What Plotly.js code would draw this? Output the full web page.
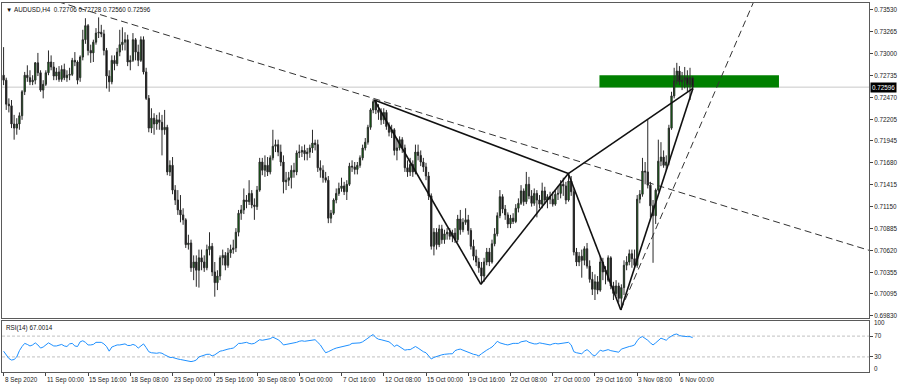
<!DOCTYPE html>
<html><head><meta charset="utf-8">
<script src="https://cdn.plot.ly/plotly-3.0.1.min.js"></script>
<style>html,body{margin:0;padding:0;background:#fff;}#chart{width:900px;height:387px;}</style>
</head><body><div id="chart"></div>
<script>
const symbol = 'AUDUSD,H4';
const dateLabels = ['8 Sep 2020','11 Sep 00:00','15 Sep 16:00','18 Sep 08:00','23 Sep 00:00','25 Sep 16:00','30 Sep 08:00','5 Oct 00:00','7 Oct 16:00','12 Oct 08:00','15 Oct 00:00','19 Oct 16:00','22 Oct 08:00','27 Oct 00:00','29 Oct 16:00','3 Nov 08:00','6 Nov 00:00'];
const priceTicks = [0.73530,0.73265,0.73000,0.72735,0.72470,0.72205,0.71945,0.71680,0.71415,0.71150,0.70885,0.70620,0.70355,0.70095,0.69830];

const open = [
0.7274,0.7268,0.7239,0.7237,0.7215,0.7210,0.7215,0.7225,0.7254,0.7274,
0.7271,0.7266,0.7268,0.7289,0.7277,0.7256,0.7263,0.7277,0.7290,0.7284,
0.7273,0.7278,0.7269,0.7281,0.7271,0.7274,0.7275,0.7292,0.7290,0.7271,
0.7296,0.7317,0.7334,0.7304,0.7301,0.7314,0.7325,0.7326,0.7324,0.7304,
0.7273,0.7266,0.7292,0.7288,0.7302,0.7311,0.7314,0.7317,0.7290,0.7292,
0.7317,0.7302,0.7292,0.7317,0.7278,0.7246,0.7210,0.7222,0.7215,0.7220,
0.7217,0.7208,0.7211,0.7157,0.7165,0.7135,0.7123,0.7111,0.7105,0.7099,
0.7069,0.7071,0.7041,0.7048,0.7038,0.7053,0.7048,0.7041,0.7063,0.7067,
0.7036,0.7023,0.7031,0.7053,0.7056,0.7044,0.7059,0.7063,0.7065,0.7084,
0.7107,0.7111,0.7123,0.7121,0.7131,0.7117,0.7115,0.7135,0.7169,0.7159,
0.7165,0.7157,0.7174,0.7188,0.7190,0.7181,0.7169,0.7145,0.7147,0.7150,
0.7159,0.7157,0.7180,0.7181,0.7183,0.7179,0.7181,0.7186,0.7192,0.7190,
0.7162,0.7159,0.7150,0.7147,0.7101,0.7107,0.7123,0.7131,0.7137,0.7140,
0.7133,0.7142,0.7164,0.7163,0.7160,0.7165,0.7174,0.7186,0.7193,0.7211,
0.7232,0.7242,0.7232,0.7229,0.7220,0.7229,0.7212,0.7205,0.7208,0.7183,
0.7186,0.7196,0.7186,0.7162,0.7157,0.7166,0.7157,0.7181,0.7177,0.7169,
0.7163,0.7152,0.7128,0.7067,0.7084,0.7069,0.7088,0.7075,0.7082,0.7084,
0.7079,0.7083,0.7075,0.7100,0.7087,0.7096,0.7099,0.7086,0.7067,0.7055,
0.7048,0.7041,0.7031,0.7048,0.7060,0.7048,0.7070,0.7082,0.7104,0.7127,
0.7112,0.7105,0.7094,0.7101,0.7097,0.7113,0.7119,0.7134,0.7121,0.7142,
0.7128,0.7119,0.7131,0.7123,0.7118,0.7134,0.7123,0.7127,0.7124,0.7118,
0.7130,0.7131,0.7142,0.7140,0.7123,0.7146,0.7133,0.7060,0.7048,0.7055,
0.7050,0.7064,0.7043,0.7027,0.7015,0.7024,0.7014,0.7048,0.7036,0.7026,
0.7053,0.7019,0.7010,0.7019,0.7004,0.7017,0.7044,0.7048,0.7058,0.7052,
0.7044,0.7124,0.7130,0.7158,0.7157,0.7141,0.7116,0.7104,0.7135,0.7170,
0.7175,0.7165,0.7169,0.7210,0.7249,0.7267,0.7279,0.7266,0.7268,0.7271,
0.7263,0.72706];

const high = [
0.7308,0.7271,0.7246,0.7244,0.7226,0.7222,0.7229,0.7256,0.7278,0.7286,
0.7280,0.7274,0.7290,0.7301,0.7280,0.7268,0.7280,0.7304,0.7298,0.7290,
0.7283,0.7285,0.7286,0.7288,0.7280,0.7283,0.7295,0.7302,0.7292,0.7298,
0.7329,0.7343,0.7336,0.7311,0.7317,0.7331,0.7344,0.7335,0.7329,0.7307,
0.7280,0.7298,0.7298,0.7307,0.7329,0.7332,0.7326,0.7323,0.7298,0.7325,
0.7319,0.7311,0.7321,0.7321,0.7283,0.7250,0.7234,0.7228,0.7226,0.7229,
0.7226,0.7232,0.7214,0.7171,0.7175,0.7141,0.7135,0.7129,0.7113,0.7101,
0.7081,0.7075,0.7056,0.7056,0.7063,0.7063,0.7056,0.7069,0.7084,0.7071,
0.7048,0.7038,0.7056,0.7063,0.7060,0.7065,0.7069,0.7075,0.7089,0.7111,
0.7117,0.7137,0.7129,0.7147,0.7135,0.7125,0.7140,0.7174,0.7174,0.7177,
0.7175,0.7177,0.7208,0.7196,0.7196,0.7190,0.7177,0.7157,0.7157,0.7165,
0.7168,0.7183,0.7190,0.7188,0.7190,0.7186,0.7190,0.7208,0.7196,0.7196,
0.7171,0.7165,0.7157,0.7152,0.7111,0.7125,0.7137,0.7144,0.7150,0.7145,
0.7147,0.7168,0.7171,0.7169,0.7169,0.7177,0.7190,0.7198,0.7214,0.7234,
0.7245,0.7244,0.7239,0.7234,0.7234,0.7232,0.7217,0.7214,0.7210,0.7198,
0.7200,0.7199,0.7190,0.7171,0.7174,0.7171,0.7190,0.7190,0.7183,0.7174,
0.7168,0.7157,0.7131,0.7089,0.7089,0.7093,0.7093,0.7087,0.7089,0.7089,
0.7087,0.7089,0.7105,0.7111,0.7101,0.7113,0.7105,0.7089,0.7075,0.7063,
0.7053,0.7048,0.7053,0.7065,0.7065,0.7075,0.7089,0.7108,0.7135,0.7130,
0.7117,0.7108,0.7105,0.7107,0.7118,0.7125,0.7141,0.7137,0.7157,0.7151,
0.7135,0.7137,0.7135,0.7129,0.7144,0.7139,0.7130,0.7133,0.7133,0.7135,
0.7140,0.7147,0.7150,0.7145,0.7156,0.7152,0.7137,0.7065,0.7060,0.7063,
0.7067,0.7071,0.7050,0.7036,0.7033,0.7031,0.7055,0.7053,0.7043,0.7056,
0.7055,0.7024,0.7026,0.7023,0.7021,0.7050,0.7055,0.7063,0.7063,0.7063,
0.7129,0.7135,0.7174,0.7169,0.7220,0.7145,0.7123,0.7137,0.7196,0.7193,
0.7183,0.7177,0.7214,0.7254,0.7283,0.7289,0.7285,0.7278,0.7284,0.7280,
0.7283,0.72728];

const low = [
0.7262,0.7232,0.7229,0.7210,0.7196,0.7202,0.7208,0.7220,0.7250,0.7266,
0.7262,0.7262,0.7263,0.7273,0.7254,0.7246,0.7261,0.7274,0.7280,0.7268,
0.7268,0.7266,0.7266,0.7268,0.7266,0.7268,0.7273,0.7285,0.7263,0.7266,
0.7292,0.7312,0.7298,0.7289,0.7290,0.7311,0.7319,0.7320,0.7298,0.7258,
0.7254,0.7263,0.7280,0.7285,0.7297,0.7304,0.7304,0.7285,0.7280,0.7290,
0.7292,0.7285,0.7290,0.7275,0.7244,0.7205,0.7204,0.7202,0.7208,0.7208,
0.7177,0.7202,0.7153,0.7152,0.7130,0.7117,0.7105,0.7096,0.7093,0.7065,
0.7063,0.7036,0.7026,0.7018,0.7017,0.7038,0.7036,0.7038,0.7056,0.7031,
0.7006,0.7014,0.7026,0.7044,0.7038,0.7041,0.7053,0.7058,0.7060,0.7079,
0.7099,0.7106,0.7113,0.7117,0.7113,0.7099,0.7111,0.7133,0.7153,0.7151,
0.7152,0.7154,0.7171,0.7181,0.7176,0.7164,0.7131,0.7135,0.7140,0.7137,
0.7150,0.7153,0.7174,0.7175,0.7171,0.7171,0.7174,0.7180,0.7183,0.7157,
0.7150,0.7144,0.7144,0.7095,0.7095,0.7105,0.7119,0.7128,0.7133,0.7129,
0.7123,0.7140,0.7157,0.7154,0.7154,0.7162,0.7171,0.7183,0.7190,0.7208,
0.7228,0.7227,0.7220,0.7214,0.7215,0.7208,0.7200,0.7198,0.7177,0.7171,
0.7183,0.7180,0.7157,0.7151,0.7152,0.7151,0.7154,0.7171,0.7164,0.7157,
0.7147,0.7123,0.7063,0.7056,0.7063,0.7066,0.7070,0.7070,0.7075,0.7075,
0.7072,0.7071,0.7072,0.7081,0.7084,0.7093,0.7081,0.7063,0.7050,0.7043,
0.7035,0.7021,0.7024,0.7044,0.7043,0.7046,0.7067,0.7079,0.7101,0.7107,
0.7099,0.7089,0.7089,0.7094,0.7095,0.7108,0.7117,0.7116,0.7118,0.7124,
0.7115,0.7116,0.7102,0.7113,0.7113,0.7118,0.7113,0.7118,0.7115,0.7116,
0.7123,0.7125,0.7128,0.7118,0.7121,0.7128,0.7056,0.7043,0.7043,0.7029,
0.7044,0.7040,0.7023,0.7008,0.7002,0.7009,0.7012,0.7026,0.7021,0.7024,
0.7015,0.7002,0.7007,0.6999,0.6990,0.7008,0.7038,0.7044,0.7041,0.7041,
0.7041,0.7119,0.7127,0.7142,0.7137,0.7102,0.7047,0.7094,0.7133,0.7164,
0.7162,0.7159,0.7165,0.7208,0.7246,0.7263,0.7262,0.7256,0.7258,0.7254,
0.7244,0.72560];

const close = [
0.7268,0.7239,0.7237,0.7215,0.7210,0.7215,0.7225,0.7254,0.7274,0.7271,
0.7266,0.7268,0.7289,0.7277,0.7256,0.7263,0.7277,0.7290,0.7284,0.7273,
0.7278,0.7269,0.7281,0.7271,0.7274,0.7275,0.7292,0.7290,0.7268,0.7296,
0.7317,0.7334,0.7304,0.7301,0.7314,0.7325,0.7326,0.7324,0.7304,0.7273,
0.7266,0.7292,0.7288,0.7302,0.7311,0.7314,0.7317,0.7290,0.7292,0.7317,
0.7302,0.7292,0.7317,0.7278,0.7246,0.7210,0.7222,0.7215,0.7220,0.7217,
0.7208,0.7211,0.7157,0.7165,0.7135,0.7123,0.7111,0.7105,0.7099,0.7069,
0.7071,0.7041,0.7048,0.7038,0.7053,0.7048,0.7041,0.7063,0.7067,0.7036,
0.7023,0.7031,0.7053,0.7056,0.7044,0.7059,0.7063,0.7065,0.7084,0.7107,
0.7111,0.7123,0.7121,0.7131,0.7117,0.7115,0.7135,0.7169,0.7159,0.7165,
0.7157,0.7174,0.7188,0.7190,0.7181,0.7169,0.7145,0.7147,0.7150,0.7159,
0.7157,0.7180,0.7181,0.7183,0.7179,0.7181,0.7186,0.7192,0.7190,0.7162,
0.7159,0.7150,0.7147,0.7101,0.7107,0.7123,0.7131,0.7137,0.7140,0.7133,
0.7142,0.7164,0.7163,0.7160,0.7165,0.7174,0.7186,0.7193,0.7211,0.7232,
0.7242,0.7232,0.7229,0.7220,0.7229,0.7212,0.7205,0.7208,0.7183,0.7186,
0.7196,0.7186,0.7162,0.7157,0.7166,0.7157,0.7181,0.7177,0.7169,0.7163,
0.7152,0.7128,0.7067,0.7084,0.7069,0.7088,0.7075,0.7082,0.7084,0.7079,
0.7083,0.7075,0.7100,0.7087,0.7096,0.7099,0.7086,0.7067,0.7055,0.7048,
0.7041,0.7031,0.7048,0.7060,0.7048,0.7070,0.7082,0.7104,0.7127,0.7112,
0.7105,0.7094,0.7101,0.7097,0.7113,0.7119,0.7134,0.7121,0.7142,0.7128,
0.7119,0.7131,0.7123,0.7118,0.7134,0.7123,0.7127,0.7124,0.7118,0.7130,
0.7131,0.7142,0.7140,0.7123,0.7146,0.7133,0.7060,0.7048,0.7055,0.7050,
0.7064,0.7043,0.7027,0.7015,0.7024,0.7014,0.7048,0.7036,0.7038,0.7053,
0.7019,0.7010,0.7019,0.7004,0.7017,0.7044,0.7048,0.7058,0.7052,0.7044,
0.7124,0.7130,0.7158,0.7157,0.7141,0.7116,0.7104,0.7135,0.7170,0.7175,
0.7165,0.7169,0.7210,0.7249,0.7267,0.7279,0.7266,0.7268,0.7271,0.7263,
0.7271,0.72596];

const rsi = [
41,33,27,24,25,30,42,50,56,54,
51,53,57,53,47,49,53,57,54,51,
51,52,54,51,50,55,56,51,50,59,
61,58,53,53,54,58,58,58,55,50,
41,49,51,53,53,54,55,52,52,54,
52,47,51,55,48,40,38,37,37,38,
37,34,31,29,29,27,26,25,24,23,
22,21,22,24,30,32,33,35,35,32,
34,37,41,42,44,45,46,47,51,56,
56,57,58,56,55,56,60,63,62,63,
64,65,68,66,63,59,53,54,55,55,
56,58,60,61,60,61,61,62,63,58,
53,45,38,40,43,45,47,48,49,51,
52,53,56,56,56,57,59,62,66,70,
73,67,64,63,62,60,59,55,50,53,
50,46,43,44,44,47,50,47,43,40,
38,32,26,29,31,33,34,35,36,36,
36,42,44,45,43,41,38,36,35,34,
32,36,40,43,46,49,54,60,57,55,
54,53,55,56,56,56,59,60,61,58,
56,55,55,57,56,55,54,53,55,56,
55,56,56,57,58,53,40,38,37,36,
41,44,40,34,32,38,43,41,42,44,
42,41,40,39,45,47,49,50,51,53,
61,67,69,66,62,57,53,57,62,66,
64,62,67,70,73,74,71,70,69,69,
69,67.0014];

// drawing-tool anchors (bar index, price)
const patternBar = [140.4, 180.8, 213.9, 233.8, 261.1];     // X, A, B, C, D
const patternPrice = [0.7244, 0.7021, 0.7155, 0.6990, 0.7258];
const trendBar = [20.6, 330];
const trendPrice = [0.7363, 0.7060];
const steepBar = [233.8, 284];
const steepPrice = [0.6990, 0.7362];
const zoneBar = [225.7, 293.7];
const zonePrice = [0.7259, 0.7274];
const rsiLevels = [70, 30];

const bars = close.map((_, i) => i);
const tickBars = dateLabels.map((_, k) => k * 16);
const last = close.length - 1;
const xRange = [-0.6, 327.8];
const F = 'Liberation Sans, Arial, sans-serif';
const frame = '#5a5a5a';

const shapes = [];
shapes.push({type:'rect', xref:'x', yref:'y', x0:zoneBar[0], x1:zoneBar[1], y0:zonePrice[0], y1:zonePrice[1],
  fillcolor:'#008000', line:{width:0}, layer:'below'});
shapes.push({type:'line', xref:'paper', yref:'y', x0:0, x1:1, y0:close[last], y1:close[last],
  line:{color:'#c8c8c8', width:1}, layer:'below'});
shapes.push({type:'line', xref:'x', yref:'y', x0:trendBar[0], x1:trendBar[1], y0:trendPrice[0], y1:trendPrice[1],
  line:{color:'#333', width:1, dash:'7px,4px'}});
shapes.push({type:'line', xref:'x', yref:'y', x0:steepBar[0], x1:steepBar[1], y0:steepPrice[0], y1:steepPrice[1],
  line:{color:'#333', width:1, dash:'7px,4px'}});
[[0,1],[1,2],[2,3],[3,4],[0,2],[2,4]].forEach(([a,b]) => shapes.push({type:'line', xref:'x', yref:'y',
  x0:patternBar[a], y0:patternPrice[a], x1:patternBar[b], y1:patternPrice[b], line:{color:'#111', width:1.6}}));
rsiLevels.forEach(v => shapes.push({type:'line', xref:'paper', yref:'y2', x0:0, x1:1, y0:v, y1:v,
  line:{color:'#c0c0c0', width:1, dash:'3px,2px'}, layer:'below'}));

const annotations = [];
annotations.push({xref:'paper', yref:'paper', x:0, y:1, xanchor:'left', yanchor:'top', xshift:2, yshift:-1, showarrow:false,
  text:'\u25BC\u00a0' + symbol + '\u00a0\u00a0' + [open[last], high[last], low[last], close[last]].map(v => v.toFixed(5)).join(' '),
  font:{family:F, size:6.3, color:'#111'}});
annotations.push({xref:'paper', yref:'paper', x:0, y:0.1382, xanchor:'left', yanchor:'top', xshift:2, yshift:-1, showarrow:false,
  text:'RSI(14) ' + rsi[last].toFixed(4), font:{family:F, size:6.3, color:'#111'}});
annotations.push({xref:'paper', yref:'y', x:1, y:close[last], xanchor:'left', yanchor:'middle', xshift:1, showarrow:false,
  text:close[last].toFixed(5), bgcolor:'#000', borderpad:1, font:{family:F, size:6.3, color:'#fff'}});
[['100', 96], ['0', 8]].forEach(([t, v]) => annotations.push({xref:'paper', yref:'y2', x:1, y:v, xanchor:'left', yanchor:'middle',
  xshift:3, showarrow:false, text:t, font:{family:F, size:6.3, color:'#222'}}));
dateLabels.forEach((t, k) => annotations.push({xref:'x2', yref:'paper', x:tickBars[k], y:0, xanchor:'left', yanchor:'top',
  xshift:-1, yshift:-2, showarrow:false, text:t, font:{family:F, size:6.3, color:'#222'}}));

const traces = [
  {type:'candlestick', x:bars, open:open, high:high, low:low, close:close, xaxis:'x', yaxis:'y',
   increasing:{line:{color:'#2a2a2a', width:1}, fillcolor:'#008000'},
   decreasing:{line:{color:'#2a2a2a', width:1}, fillcolor:'#000000'},
   whiskerwidth:0, hoverinfo:'skip', showlegend:false},
  {type:'scatter', mode:'lines', x:bars, y:rsi, xaxis:'x2', yaxis:'y2',
   line:{color:'#1e90ff', width:1}, hoverinfo:'skip', showlegend:false}
];

const layout = {
  width:900, height:387, margin:{l:2, r:31, t:3, b:15},
  paper_bgcolor:'#fff', plot_bgcolor:'#fff', showlegend:false,
  font:{family:F, size:6.3, color:'#222'},
  xaxis:{domain:[0,1], anchor:'y', range:xRange, rangeslider:{visible:false}, showticklabels:false, ticks:'',
    showgrid:false, zeroline:false, showline:true, mirror:true, linecolor:frame, linewidth:1},
  yaxis:{domain:[0.1463,1], anchor:'x', side:'right', range:[0.69802,0.73614], tickvals:priceTicks, tickformat:'.5f',
    ticks:'outside', ticklen:3, tickcolor:'#444', showgrid:false, zeroline:false, showline:true, mirror:true,
    linecolor:frame, linewidth:1, tickfont:{family:F, size:6.3, color:'#222'}},
  xaxis2:{domain:[0,1], anchor:'y2', range:xRange, tickvals:tickBars, ticks:'outside', ticklen:3, tickcolor:'#444',
    showticklabels:false, showgrid:false, zeroline:false, showline:true, mirror:true, linecolor:frame, linewidth:1},
  yaxis2:{domain:[0,0.1382], anchor:'x2', side:'right', range:[1,99], tickvals:rsiLevels, ticks:'outside', ticklen:3,
    tickcolor:'#444', showgrid:false, zeroline:false, showline:true, mirror:true, linecolor:frame, linewidth:1,
    tickfont:{family:F, size:6.3, color:'#222'}},
  shapes:shapes, annotations:annotations
};

Plotly.newPlot('chart', traces, layout, {displayModeBar:false, staticPlot:true});
</script>
</body></html>
